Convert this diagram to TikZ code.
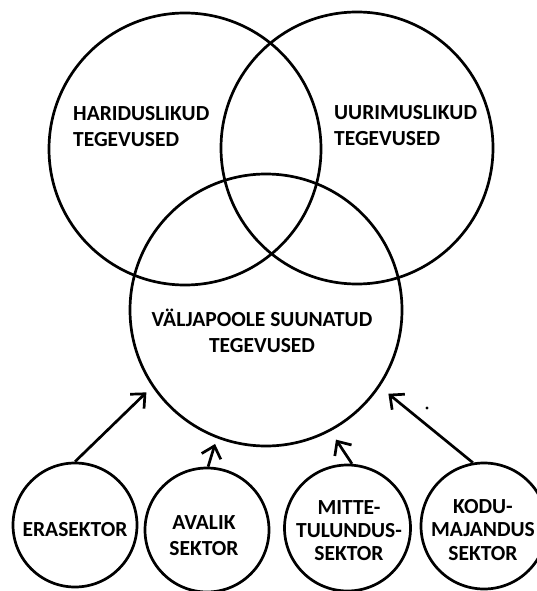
\documentclass[tikz,border=0pt]{standalone}
\usepackage{fontspec}
\setmainfont{Carlito}
\usetikzlibrary{arrows.meta}
\begin{document}
\begin{tikzpicture}[x=1pt,y=-1pt,
  ring/.style={circle,draw,line width=2.7pt,inner sep=0pt,minimum size=#1},
  lbl/.style={font=\fontsize{21.5}{26}\selectfont\bfseries,inner sep=0pt,align=#1},
  arr/.style={line width=2.7pt,-{Straight Barb[length=11pt,width=20pt,line width=2.7pt]}}]
  \useasboundingbox (0,0) rectangle (536,591);
  % three overlapping activity circles
  \node[ring=272pt] (hari) at (185,149) {};
  \node[ring=272pt] (uuri) at (357,148) {};
  \node[ring=272pt] (valja) at (266,310) {};
  \node[lbl=left,anchor=west] (thari) at (73,127) {HARIDUSLIKUD\\TEGEVUSED};
  \node[lbl=left,anchor=west] (tuuri) at (334,126) {UURIMUSLIKUD\\TEGEVUSED};
  \node[lbl=center] (tvalja) at (262,331) {VÄLJAPOOLE SUUNATUD\\TEGEVUSED};
  % sector circles
  \node[ring=124pt] (era) at (75,525) {};
  \node[ring=124pt] (avalik) at (207,530) {};
  \node[ring=126pt] (mitte) at (347.5,528) {};
  \node[ring=126pt] (kodu) at (484,526) {};
  \node[lbl=center] (tera) at (75,530) {ERASEKTOR};
  \node[lbl=center] (tavalik) at (204,536) {AVALIK\\SEKTOR};
  \node[lbl=center,font=\fontsize{21.5}{23}\selectfont\bfseries] (tmitte) at (349,531) {MITTE-\\TULUNDUS-\\SEKTOR};
  \node[lbl=center,font=\fontsize{21.5}{23.5}\selectfont\bfseries] (tkodu) at (483,530) {KODU-\\MAJANDUS\\SEKTOR};
  % arrows into the outward activities circle
  \draw[arr,shorten >=8pt] (era.90) -- (valja.214.6);
  \draw[arr,shorten >=6pt] (avalik.89) -- (valja.249.8);
  \draw[arr,shorten >=10pt] (mitte.86) -- (valja.298.7);
  \draw[arr,shorten >=11pt] (kodu.100) -- (valja.326.1);
  \fill (427,408) circle (1.7pt);
\end{tikzpicture}
\end{document}
